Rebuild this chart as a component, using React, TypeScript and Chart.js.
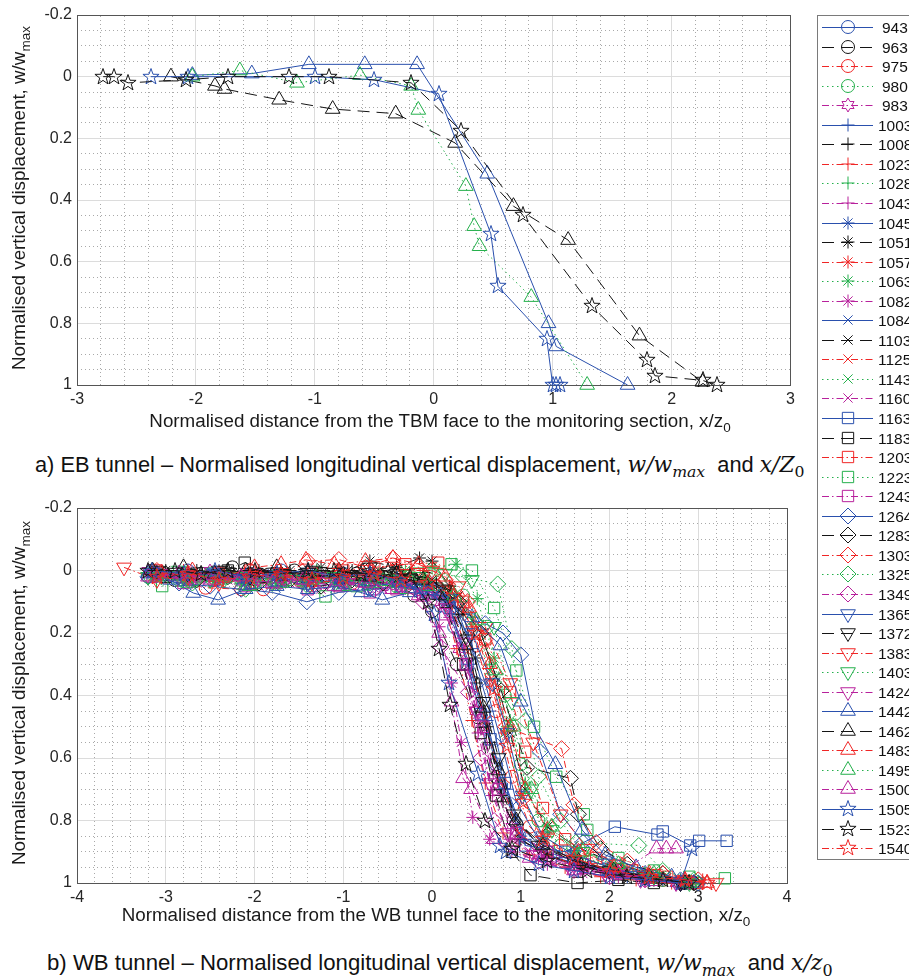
import React, { useEffect, useRef } from 'react';
import { Chart, registerables } from 'chart.js';
import { drawPoint } from 'chart.js/helpers';

Chart.register(...registerables);

const FONT = '"Liberation Sans", Arial, Helvetica, sans-serif';
const MATH = '"DejaVu Serif", "Liberation Serif", serif';

// ---------- monitoring sections (legend order) ----------
const sectionIds = [
  943, 963, 975, 980, 983, 1003, 1008, 1023, 1028, 1043, 1045, 1051, 1057, 1063, 1082,
  1084, 1103, 1125, 1143, 1160, 1163, 1183, 1203, 1223, 1243, 1264, 1283, 1303, 1325, 1349,
  1365, 1372, 1383, 1403, 1424, 1442, 1462, 1483, 1495, 1500, 1505, 1523, 1540,
];

// ---------- tick labels ----------
const ebXTicks = [-3, -2, -1, 0, 1, 2, 3];
const wbXTicks = [-4, -3, -2, -1, 0, 1, 2, 3, 4];
const yTicks = [-0.2, 0, 0.2, 0.4, 0.6, 0.8, 1];

// ---------- (a) EB tunnel: [x/z0, w/wmax] ----------
const eb1442 = [[-2.03, -0.005], [-1.53, -0.01], [-1.05, -0.04], [-0.58, -0.04], [-0.14, -0.04], [0.45, 0.315], [0.965, 0.8], [1.03, 0.875], [1.63, 1.0]];
const eb1462 = [[-2.21, 0.0], [-1.84, 0.03], [-1.76, 0.04], [-1.3, 0.075], [-0.85, 0.105], [-0.32, 0.12], [0.18, 0.215], [0.67, 0.42], [1.13, 0.53], [1.73, 0.84], [2.26, 0.99]];
const eb1495 = [[-2.03, 0.0], [-1.63, -0.02], [-1.15, 0.02], [-0.62, -0.005], [-0.19, 0.03], [-0.13, 0.108], [0.27, 0.355], [0.34, 0.485], [0.385, 0.55], [0.82, 0.715], [1.29, 1.0]];
const eb1505 = [[-2.38, 0.0], [-2.07, 0.0], [-1.0, 0.0], [-0.5, 0.01], [0.04, 0.055], [0.48, 0.51], [0.54, 0.68], [0.95, 0.85], [1.0, 1.0], [1.03, 1.0], [1.06, 1.0]];
const eb1523 = [[-2.78, 0.0], [-2.69, 0.0], [-2.57, 0.02], [-2.08, 0.01], [-1.73, 0.0], [-1.22, 0.0], [-0.88, 0.0], [-0.19, 0.02], [0.23, 0.175], [0.75, 0.45], [1.33, 0.745], [1.79, 0.92], [1.86, 0.97], [2.26, 0.985], [2.38, 1.0]];

// ---------- (b) WB tunnel: [x/z0, w/wmax] ----------
const wb943 = [[-3.1, 0.01], [-2.75, 0.0], [-2.4, 0.02], [-2.05, 0.01], [-1.7, 0.0], [-1.35, 0.03], [-1.0, 0.01], [-0.65, 0.02], [-0.3, 0.03], [0.0, 0.06], [0.25, 0.18], [0.48, 0.36], [0.72, 0.62], [0.95, 0.81], [1.3, 0.9], [1.7, 0.94], [2.1, 0.96], [2.5, 0.98], [2.85, 1.0]];
const wb963 = [[-3.15, 0.0], [-2.9, 0.03], [-2.6, 0.01], [-2.25, -0.01], [-1.9, 0.02], [-1.55, 0.0], [-1.2, 0.02], [-0.85, 0.01], [-0.5, 0.02], [-0.2, 0.08], [0.0, 0.13], [0.28, 0.3], [0.52, 0.47], [0.72, 0.66], [0.92, 0.8], [1.25, 0.88], [1.6, 0.93], [2.0, 0.96], [2.4, 0.98], [2.8, 1.0]];
const wb975 = [[-3.0, 0.02], [-2.55, 0.055], [-2.15, 0.06], [-1.9, 0.06], [-1.5, 0.03], [-1.25, 0.02], [-0.9, 0.04], [-0.55, 0.02], [-0.25, 0.04], [0.05, 0.05], [0.3, 0.12], [0.5, 0.24], [0.72, 0.45], [0.9, 0.66], [1.1, 0.82], [1.4, 0.9], [1.8, 0.95], [2.2, 0.97], [2.6, 0.99], [2.95, 1.0]];
const wb980 = [[-3.2, 0.02], [-2.85, 0.03], [-2.5, 0.01], [-2.15, 0.03], [-1.8, 0.02], [-1.45, 0.04], [-1.1, 0.02], [-0.75, 0.03], [-0.4, 0.05], [-0.1, 0.06], [0.2, 0.07], [0.35, 0.08], [0.62, 0.18], [0.82, 0.4], [1.0, 0.62], [1.2, 0.8], [1.45, 0.88], [1.8, 0.93], [2.2, 0.97], [2.6, 0.99], [2.85, 1.0]];
const wb983 = [[-3.2, 0.0], [-2.85, 0.02], [-2.5, 0.0], [-2.15, 0.02], [-1.8, 0.01], [-1.45, 0.03], [-1.1, 0.02], [-0.75, 0.04], [-0.45, 0.03], [-0.15, 0.05], [0.1, 0.1], [0.3, 0.25], [0.5, 0.45], [0.7, 0.66], [0.9, 0.82], [1.2, 0.91], [1.6, 0.95], [2.0, 0.97], [2.4, 0.99], [2.75, 1.0]];
const wb1003 = [[-3.1, 0.0], [-2.75, 0.01], [-2.4, 0.0], [-2.05, 0.02], [-1.7, 0.01], [-1.35, 0.0], [-1.0, 0.02], [-0.65, 0.01], [-0.3, 0.03], [0.0, 0.04], [0.25, 0.1], [0.45, 0.25], [0.65, 0.45], [0.85, 0.7], [1.05, 0.86], [1.4, 0.92], [1.8, 0.95], [2.2, 0.98], [2.6, 0.99], [2.9, 1.0]];
const wb1008 = [[-3.0, 0.01], [-2.65, 0.0], [-2.3, 0.02], [-1.95, 0.0], [-1.6, 0.01], [-1.25, 0.02], [-0.9, 0.0], [-0.55, 0.02], [-0.25, 0.01], [0.05, 0.04], [0.3, 0.14], [0.5, 0.36], [0.65, 0.55], [0.8, 0.74], [1.0, 0.86], [1.35, 0.92], [1.75, 0.95], [2.15, 0.98], [2.55, 0.99], [2.9, 1.0]];
const wb1023 = [[-3.15, 0.02], [-2.8, 0.01], [-2.45, 0.03], [-2.1, 0.02], [-1.75, 0.01], [-1.4, 0.03], [-1.05, 0.02], [-0.7, 0.0], [-0.4, -0.02], [-0.1, 0.0], [0.1, 0.08], [0.28, 0.25], [0.45, 0.48], [0.6, 0.68], [0.8, 0.84], [1.1, 0.91], [1.5, 0.95], [1.9, 0.98], [2.3, 0.99], [2.7, 1.0]];
const wb1028 = [[-3.2, 0.01], [-2.85, 0.03], [-2.5, 0.02], [-2.15, 0.04], [-1.8, 0.02], [-1.45, 0.03], [-1.1, 0.05], [-0.75, 0.03], [-0.4, 0.04], [-0.1, 0.02], [0.2, 0.05], [0.45, 0.15], [0.65, 0.3], [0.85, 0.5], [1.05, 0.7], [1.3, 0.84], [1.6, 0.91], [2.0, 0.95], [2.4, 0.98], [2.85, 1.0]];
const wb1043 = [[-3.05, 0.0], [-2.7, 0.02], [-2.35, 0.01], [-2.0, 0.03], [-1.65, 0.02], [-1.3, 0.01], [-0.95, 0.03], [-0.6, 0.04], [-0.3, 0.05], [0.0, 0.07], [0.2, 0.15], [0.38, 0.32], [0.52, 0.52], [0.68, 0.72], [0.88, 0.86], [1.2, 0.92], [1.6, 0.96], [2.0, 0.98], [2.45, 0.99], [2.8, 1.0]];
const wb1045 = [[-3.1, 0.01], [-2.75, 0.02], [-2.4, 0.01], [-2.05, 0.03], [-1.7, 0.02], [-1.35, 0.01], [-1.0, 0.03], [-0.65, 0.02], [-0.35, 0.04], [-0.05, 0.05], [0.2, 0.12], [0.42, 0.3], [0.62, 0.48], [0.8, 0.7], [1.0, 0.85], [1.3, 0.91], [1.7, 0.95], [2.1, 0.97], [2.5, 0.99], [2.85, 1.0]];
const wb1051 = [[-3.0, 0.0], [-2.65, 0.01], [-2.3, 0.0], [-1.95, 0.01], [-1.6, 0.0], [-1.25, -0.01], [-0.95, 0.0], [-0.7, -0.03], [-0.4, -0.01], [-0.14, -0.04], [0.0, -0.03], [0.2, 0.05], [0.35, 0.14], [0.49, 0.28], [0.62, 0.5], [0.78, 0.72], [0.98, 0.86], [1.3, 0.91], [1.7, 0.95], [2.1, 0.97], [2.5, 0.99], [2.85, 1.0]];
const wb1057 = [[-3.15, 0.02], [-2.8, 0.0], [-2.45, 0.02], [-2.1, 0.01], [-1.75, 0.03], [-1.4, 0.02], [-1.05, 0.0], [-0.7, 0.02], [-0.4, 0.01], [-0.1, 0.03], [0.2, 0.06], [0.45, 0.18], [0.65, 0.35], [0.82, 0.52], [1.0, 0.72], [1.25, 0.85], [1.6, 0.92], [2.0, 0.96], [2.45, 0.98], [2.9, 1.0], [3.05, 0.99]];
const wb1063 = [[-3.05, 0.01], [-2.7, 0.02], [-2.35, 0.01], [-2.0, 0.03], [-1.65, 0.02], [-1.3, 0.0], [-0.95, 0.02], [-0.6, 0.01], [-0.3, 0.0], [0.0, -0.01], [0.27, -0.02], [0.51, 0.09], [0.7, 0.28], [0.88, 0.48], [1.05, 0.68], [1.3, 0.82], [1.6, 0.9], [2.0, 0.95], [2.4, 0.97], [2.8, 0.99], [3.0, 1.0]];
const wb1082 = [[-3.1, 0.01], [-2.75, 0.0], [-2.4, 0.02], [-2.05, 0.01], [-1.7, 0.03], [-1.35, 0.02], [-1.0, 0.04], [-0.65, 0.03], [-0.35, 0.05], [-0.1, 0.08], [0.08, 0.18], [0.22, 0.36], [0.33, 0.55], [0.46, 0.79], [0.65, 0.86], [0.9, 0.9], [1.3, 0.94], [1.7, 0.97], [2.1, 0.98], [2.5, 0.99], [2.8, 1.0]];
const wb1084 = [[-3.2, 0.01], [-2.85, 0.0], [-2.5, 0.02], [-2.15, 0.03], [-1.8, 0.01], [-1.45, 0.02], [-1.1, 0.04], [-0.75, 0.03], [-0.45, 0.05], [-0.15, 0.06], [0.15, 0.1], [0.4, 0.2], [0.6, 0.36], [0.78, 0.55], [0.95, 0.74], [1.2, 0.86], [1.55, 0.92], [1.95, 0.96], [2.35, 0.98], [2.75, 1.0]];
const wb1103 = [[-3.05, 0.0], [-2.7, 0.02], [-2.35, 0.0], [-2.0, 0.01], [-1.65, 0.0], [-1.3, 0.02], [-0.95, 0.01], [-0.6, 0.0], [-0.3, 0.02], [0.0, 0.03], [0.3, 0.08], [0.55, 0.2], [0.72, 0.34], [0.88, 0.52], [1.05, 0.7], [1.3, 0.82], [1.6, 0.88], [2.0, 0.93], [2.45, 0.97], [2.85, 1.0]];
const wb1125 = [[-3.1, 0.02], [-2.75, 0.03], [-2.4, 0.02], [-2.05, 0.04], [-1.7, 0.02], [-1.35, 0.03], [-1.0, 0.01], [-0.65, 0.03], [-0.35, 0.02], [-0.05, 0.04], [0.2, 0.1], [0.4, 0.26], [0.6, 0.48], [0.78, 0.68], [0.98, 0.84], [1.3, 0.91], [1.7, 0.95], [2.1, 0.97], [2.5, 0.99], [2.9, 1.0]];
const wb1143 = [[-3.15, 0.03], [-2.8, 0.02], [-2.45, 0.04], [-2.1, 0.03], [-1.75, 0.05], [-1.4, 0.03], [-1.05, 0.04], [-0.7, 0.02], [-0.4, 0.03], [-0.1, 0.04], [0.2, 0.07], [0.45, 0.16], [0.65, 0.32], [0.82, 0.52], [1.0, 0.72], [1.25, 0.85], [1.6, 0.91], [2.0, 0.95], [2.4, 0.98], [2.8, 1.0]];
const wb1160 = [[-3.0, 0.02], [-2.65, 0.04], [-2.3, 0.03], [-1.95, 0.05], [-1.6, 0.04], [-1.25, 0.06], [-0.9, 0.04], [-0.55, 0.06], [-0.25, 0.05], [0.05, 0.08], [0.25, 0.16], [0.42, 0.32], [0.56, 0.5], [0.72, 0.7], [0.92, 0.85], [1.25, 0.91], [1.65, 0.95], [2.05, 0.97], [2.45, 0.99], [2.8, 1.0]];
const wb1163 = [[-3.1, 0.01], [-2.75, 0.03], [-2.4, 0.02], [-2.05, 0.04], [-1.7, 0.03], [-1.35, 0.05], [-1.0, 0.04], [-0.65, 0.06], [-0.35, 0.05], [-0.05, 0.07], [0.2, 0.12], [0.4, 0.3], [0.55, 0.46], [0.66, 0.54], [0.82, 0.68], [1.05, 0.88], [1.5, 0.9], [2.06, 0.82], [2.54, 0.845], [2.6, 0.835], [2.91, 0.88], [3.01, 0.865], [3.32, 0.865]];
const wb1183 = [[-3.0, 0.02], [-2.65, 0.01], [-2.3, 0.0], [-2.11, -0.025], [-1.75, 0.01], [-1.4, 0.02], [-1.05, 0.01], [-0.7, 0.03], [-0.4, 0.02], [-0.1, 0.04], [0.15, 0.1], [0.35, 0.3], [0.55, 0.52], [0.72, 0.72], [0.9, 0.9], [1.11, 0.975], [1.64, 1.0], [2.1, 0.99], [2.5, 1.0], [2.85, 1.0]];
const wb1203 = [[-3.1, 0.0], [-2.75, 0.02], [-2.4, 0.01], [-2.05, 0.0], [-1.7, 0.02], [-1.35, 0.01], [-1.0, 0.0], [-0.65, -0.01], [-0.3, -0.02], [0.07, -0.025], [0.35, 0.1], [0.6, 0.22], [0.88, 0.39], [1.05, 0.58], [1.25, 0.76], [1.5, 0.86], [1.85, 0.92], [2.25, 0.96], [2.65, 0.98], [3.0, 1.0]];
const wb1223 = [[-3.04, 0.05], [-2.7, 0.03], [-2.35, 0.02], [-2.0, 0.04], [-1.65, 0.03], [-1.2, 0.083], [-0.85, 0.05], [-0.5, 0.03], [-0.15, 0.01], [0.22, -0.02], [0.45, 0.0], [0.7, 0.12], [0.95, 0.32], [1.15, 0.5], [1.4, 0.66], [1.71, 0.78], [1.75, 0.83], [2.1, 0.92], [2.5, 0.96], [2.9, 0.98], [3.3, 0.985]];
const wb1243 = [[-3.15, 0.02], [-2.8, 0.04], [-2.45, 0.03], [-2.1, 0.05], [-1.75, 0.04], [-1.4, 0.06], [-1.05, 0.05], [-0.7, 0.07], [-0.4, 0.06], [-0.1, 0.08], [0.15, 0.14], [0.38, 0.3], [0.58, 0.5], [0.75, 0.7], [0.95, 0.84], [1.3, 0.9], [1.7, 0.94], [2.1, 0.97], [2.5, 0.99], [2.9, 1.0]];
const wb1264 = [[-3.2, 0.02], [-2.85, 0.04], [-2.5, 0.05], [-2.15, 0.06], [-1.8, 0.07], [-1.41, 0.1], [-1.05, 0.07], [-0.7, 0.06], [-0.35, 0.05], [0.0, 0.06], [0.3, 0.1], [0.6, 0.17], [0.8, 0.2], [1.0, 0.27], [1.22, 0.58], [1.45, 0.78], [1.7, 0.87], [2.0, 0.93], [2.4, 0.97], [2.8, 0.99], [3.0, 1.0]];
const wb1283 = [[-3.0, 0.01], [-2.65, 0.03], [-2.3, 0.02], [-1.95, 0.04], [-1.6, 0.03], [-1.25, 0.05], [-0.9, 0.03], [-0.55, 0.04], [-0.25, 0.03], [0.05, 0.05], [0.3, 0.1], [0.55, 0.2], [0.78, 0.385], [1.07, 0.63], [1.56, 0.665], [1.65, 0.78], [1.9, 0.89], [2.2, 0.94], [2.6, 0.97], [2.95, 1.0]];
const wb1303 = [[-3.1, 0.0], [-2.75, 0.02], [-2.4, 0.01], [-2.05, 0.0], [-1.7, 0.02], [-1.4, -0.03], [-1.05, -0.035], [-0.75, -0.01], [-0.44, -0.04], [-0.15, -0.01], [0.15, 0.03], [0.4, 0.1], [0.6, 0.22], [0.83, 0.5], [1.46, 0.57], [1.6, 0.75], [1.85, 0.87], [2.2, 0.93], [2.6, 0.97], [3.0, 0.99]];
const wb1325 = [[-3.05, 0.02], [-2.7, 0.04], [-2.35, 0.03], [-2.1, 0.06], [-1.75, 0.04], [-1.4, 0.05], [-1.05, 0.03], [-0.7, 0.04], [-0.35, 0.02], [0.0, 0.01], [0.35, 0.02], [0.74, 0.043], [0.9, 0.25], [1.05, 0.48], [1.2, 0.66], [1.45, 0.8], [1.62, 0.87], [2.33, 0.88], [2.6, 0.96], [2.95, 0.99]];
const wb1349 = [[-3.1, 0.01], [-2.75, 0.03], [-2.4, 0.02], [-2.05, 0.04], [-1.7, 0.03], [-1.35, 0.05], [-1.0, 0.04], [-0.65, 0.06], [-0.35, 0.05], [-0.1, 0.1], [0.1, 0.245], [0.41, 0.39], [0.55, 0.6], [0.7, 0.8], [0.9, 0.88], [1.2, 0.93], [1.6, 0.96], [2.0, 0.98], [2.4, 0.99], [2.8, 1.0]];
const wb1365 = [[-3.15, 0.01], [-2.8, 0.02], [-2.45, 0.01], [-2.1, 0.03], [-1.75, 0.02], [-1.4, 0.04], [-1.05, 0.03], [-0.7, 0.05], [-0.4, 0.04], [-0.1, 0.06], [0.2, 0.09], [0.45, 0.2], [0.68, 0.36], [0.85, 0.52], [1.02, 0.72], [1.25, 0.85], [1.6, 0.91], [2.0, 0.95], [2.4, 0.98], [2.8, 1.0]];
const wb1372 = [[-3.1, 0.0], [-2.75, 0.01], [-2.4, 0.0], [-2.05, 0.02], [-1.7, 0.01], [-1.35, 0.0], [-1.0, 0.02], [-0.7, -0.01], [-0.4, 0.01], [-0.1, 0.02], [0.15, 0.06], [0.4, 0.22], [0.58, 0.42], [0.75, 0.6], [0.92, 0.78], [1.2, 0.88], [1.6, 0.93], [2.0, 0.96], [2.4, 0.98], [2.8, 1.0]];
const wb1383 = [[-3.47, -0.01], [-3.1, 0.03], [-2.75, 0.02], [-2.4, 0.04], [-2.05, 0.03], [-1.7, 0.02], [-1.35, 0.04], [-1.0, 0.03], [-0.65, 0.02], [-0.3, 0.01], [0.0, 0.0], [0.3, 0.05], [0.6, 0.18], [0.88, 0.36], [1.14, 0.55], [1.45, 0.78], [1.75, 0.89], [2.1, 0.94], [2.5, 0.97], [2.85, 0.99], [3.2, 1.0]];
const wb1403 = [[-3.2, 0.02], [-2.85, 0.0], [-2.5, 0.03], [-2.15, 0.02], [-1.8, 0.04], [-1.45, 0.03], [-1.1, 0.02], [-0.75, 0.04], [-0.45, 0.03], [-0.15, 0.02], [0.15, 0.01], [0.45, 0.03], [0.7, 0.18], [0.9, 0.42], [1.12, 0.7], [1.35, 0.83], [1.7, 0.9], [2.1, 0.95], [2.5, 0.98], [2.9, 1.0]];
const wb1424 = [[-3.05, 0.01], [-2.7, 0.03], [-2.35, 0.02], [-2.0, 0.01], [-1.65, 0.03], [-1.3, 0.02], [-0.95, 0.04], [-0.6, 0.03], [-0.3, 0.05], [-0.05, 0.07], [0.15, 0.12], [0.35, 0.23], [0.5, 0.45], [0.65, 0.68], [0.85, 0.84], [1.15, 0.91], [1.55, 0.95], [1.95, 0.97], [2.35, 0.99], [2.75, 1.0]];
const wb1442 = [[-3.2, 0.01], [-2.95, 0.03], [-2.69, 0.072], [-2.41, 0.094], [-2.1, 0.06], [-1.75, 0.05], [-1.4, 0.06], [-1.05, 0.05], [-0.8, 0.07], [-0.56, 0.094], [-0.25, 0.07], [0.1, 0.08], [0.45, 0.15], [0.77, 0.24], [1.0, 0.42], [1.39, 0.62], [1.69, 0.83], [1.95, 0.91], [2.3, 0.95], [2.7, 0.98], [2.95, 1.0]];
const wb1462 = [[-3.15, 0.0], [-2.8, -0.01], [-2.45, 0.01], [-2.1, 0.0], [-1.75, -0.01], [-1.4, 0.01], [-1.05, 0.0], [-0.7, 0.02], [-0.4, 0.01], [-0.1, 0.03], [0.15, 0.08], [0.38, 0.24], [0.58, 0.44], [0.75, 0.64], [0.95, 0.8], [1.25, 0.88], [1.65, 0.93], [2.05, 0.96], [2.45, 0.98], [2.85, 1.0]];
const wb1483 = [[-3.05, 0.01], [-2.7, 0.0], [-2.35, 0.02], [-2.0, -0.01], [-1.7, -0.02], [-1.42, -0.034], [-1.1, -0.02], [-0.75, -0.03], [-0.44, -0.04], [-0.15, -0.02], [0.15, 0.02], [0.42, 0.12], [0.65, 0.3], [0.88, 0.5], [1.05, 0.7], [1.3, 0.83], [1.65, 0.9], [2.05, 0.95], [2.45, 0.97], [2.85, 0.99], [3.1, 1.0]];
const wb1495 = [[-3.1, 0.02], [-2.75, 0.04], [-2.4, 0.03], [-2.05, 0.05], [-1.7, 0.04], [-1.35, 0.03], [-1.0, 0.05], [-0.65, 0.04], [-0.35, 0.06], [-0.05, 0.05], [0.25, 0.08], [0.5, 0.16], [0.72, 0.32], [0.92, 0.5], [1.12, 0.7], [1.35, 0.82], [1.7, 0.9], [2.1, 0.94], [2.5, 0.97], [2.9, 1.0]];
const wb1500 = [[-3.2, 0.02], [-2.85, 0.01], [-2.5, 0.03], [-2.15, 0.02], [-1.8, 0.04], [-1.45, 0.03], [-1.1, 0.05], [-0.75, 0.04], [-0.45, 0.06], [-0.15, 0.08], [0.08, 0.2], [0.22, 0.42], [0.35, 0.665], [0.44, 0.7], [0.7, 0.86], [1.1, 0.92], [1.6, 0.96], [2.1, 0.97], [2.53, 0.89], [2.64, 0.89], [2.75, 0.89]];
const wb1505 = [[-3.15, 0.0], [-2.8, 0.01], [-2.45, 0.0], [-2.1, 0.02], [-1.75, 0.01], [-1.4, 0.0], [-1.05, 0.02], [-0.7, 0.01], [-0.4, 0.03], [-0.15, 0.06], [0.02, 0.14], [0.19, 0.36], [0.52, 0.65], [0.77, 0.88], [0.83, 0.9], [1.2, 0.94], [1.6, 0.96], [2.0, 0.98], [2.4, 0.99], [2.8, 1.0], [2.93, 0.89]];
const wb1523 = [[-3.2, 0.0], [-2.9, 0.0], [-2.6, 0.01], [-2.3, 0.0], [-2.0, 0.0], [-1.7, 0.01], [-1.4, 0.0], [-1.1, 0.0], [-0.8, 0.01], [-0.5, 0.0], [-0.25, 0.02], [-0.05, 0.1], [0.08, 0.25], [0.2, 0.43], [0.38, 0.62], [0.6, 0.8], [0.9, 0.89], [1.3, 0.93], [1.75, 0.96], [2.2, 0.98], [2.6, 0.99], [2.9, 1.0]];
const wb1540 = [[-3.1, 0.02], [-2.75, 0.01], [-2.4, 0.03], [-2.05, 0.02], [-1.7, 0.01], [-1.35, 0.03], [-1.0, 0.02], [-0.65, 0.01], [-0.35, 0.03], [-0.05, 0.04], [0.25, 0.08], [0.5, 0.2], [0.7, 0.38], [0.85, 0.56], [1.02, 0.74], [1.25, 0.86], [1.6, 0.92], [2.0, 0.96], [2.45, 0.98], [2.85, 0.99], [3.1, 1.0]];

const ebTable: Record<number, number[][]> = { 1442: eb1442, 1462: eb1462, 1495: eb1495, 1505: eb1505, 1523: eb1523 };
const wbTable: Record<number, number[][]> = {
  943: wb943, 963: wb963, 975: wb975, 980: wb980, 983: wb983, 1003: wb1003, 1008: wb1008, 1023: wb1023,
  1028: wb1028, 1043: wb1043, 1045: wb1045, 1051: wb1051, 1057: wb1057, 1063: wb1063, 1082: wb1082,
  1084: wb1084, 1103: wb1103, 1125: wb1125, 1143: wb1143, 1160: wb1160, 1163: wb1163, 1183: wb1183,
  1203: wb1203, 1223: wb1223, 1243: wb1243, 1264: wb1264, 1283: wb1283, 1303: wb1303, 1325: wb1325,
  1349: wb1349, 1365: wb1365, 1372: wb1372, 1383: wb1383, 1403: wb1403, 1424: wb1424, 1442: wb1442,
  1462: wb1462, 1483: wb1483, 1495: wb1495, 1500: wb1500, 1505: wb1505, 1523: wb1523, 1540: wb1540,
};

// ---------- styles ----------
const COLORS = ['#2a50ad', '#141414', '#f02626', '#25b04c', '#b8219c'];
const DASHES = [[], [12, 7], [7, 3, 1.5, 3], [1.5, 3.5], [7, 3, 1.5, 3]];
const MARKERS = ['circle', 'cross', 'star', 'crossRot', 'rect', 'rectRot', 'triangleDown', 'triangle', 'pentagram'];

function starCanvas(color: string, n: number, R: number, r: number) {
  const size = 2 * Math.ceil(R + 2);
  const c = document.createElement('canvas');
  c.width = size;
  c.height = size;
  const g = c.getContext('2d')!;
  g.strokeStyle = color;
  g.lineWidth = 1;
  g.beginPath();
  for (let k = 0; k < n * 2; k++) {
    const a = -Math.PI / 2 + (k * Math.PI) / n;
    const rr = k % 2 === 0 ? R : r;
    const px = size / 2 + rr * Math.cos(a);
    const py = size / 2 + rr * Math.sin(a);
    if (k === 0) g.moveTo(px, py);
    else g.lineTo(px, py);
  }
  g.closePath();
  g.stroke();
  return c;
}

const styleCache: Record<number, any> = {};
function styleFor(idx: number) {
  if (styleCache[idx]) return styleCache[idx];
  const color = COLORS[idx % 5];
  const dash = DASHES[idx % 5];
  const mk = idx === 4 ? 'hexagram' : MARKERS[Math.floor(idx / 5)];
  let pointStyle: any = mk;
  let rotation = 0;
  let radius = 6.5;
  switch (mk) {
    case 'circle': radius = 6.5; break;
    case 'cross': radius = 6.5; break;
    case 'star': radius = 6.5; break;
    case 'crossRot': radius = 6.5; break;
    case 'rect': radius = 8; break;
    case 'rectRot': radius = 8; break;
    case 'triangleDown': pointStyle = 'triangle'; rotation = 180; radius = 8.5; break;
    case 'triangle': radius = 8.5; break;
    case 'pentagram': pointStyle = starCanvas(color, 5, 8.5, 3.4); break;
    case 'hexagram': pointStyle = starCanvas(color, 6, 7, 4.0); break;
  }
  const s = { color, dash, pointStyle, rotation, radius };
  styleCache[idx] = s;
  return s;
}

function makeDataset(id: number, pts: number[][]) {
  const idx = sectionIds.indexOf(id);
  const s = styleFor(idx);
  return {
    label: String(id),
    data: pts.map(([x, y]) => ({ x, y })),
    showLine: true,
    borderColor: s.color,
    backgroundColor: s.color,
    borderWidth: 1,
    borderDash: s.dash,
    pointStyle: s.pointStyle,
    pointRotation: s.rotation,
    pointRadius: s.radius,
    pointHoverRadius: s.radius,
    pointBorderColor: s.color,
    pointBackgroundColor: 'rgba(0,0,0,0)',
    pointBorderWidth: 1,
    tension: 0,
    fill: false,
    clip: 14,
    order: -idx,
  };
}

const isMult = (v: number, step: number) => Math.abs(v / step - Math.round(v / step)) < 1e-6;
const fmt = (v: number) => String(Math.round(v * 10) / 10);

// crisp (non-smoothed) drawing of image markers
const crispPlugin = {
  id: 'crispMarkers',
  beforeDatasetsDraw(chart: any) {
    chart.ctx.imageSmoothingEnabled = false;
  },
};

function buildOptions(xmin: number, xmax: number, xTicks: number[], pad: { top: number; right: number }) {
  const tickFont = { family: FONT, size: 16 };
  return {
    animation: false as const,
    responsive: false,
    maintainAspectRatio: false,
    events: [] as any[],
    layout: { padding: { top: pad.top, right: pad.right, left: 0, bottom: 0 } },
    plugins: { legend: { display: false }, tooltip: { enabled: false } },
    scales: {
      x: {
        type: 'linear' as const,
        position: 'bottom' as const,
        min: xmin,
        max: xmax,
        afterBuildTicks: (s: any) => { s.ticks = xTicks.map((v) => ({ value: v })); },
        ticks: { color: '#262626', font: tickFont, padding: 5, maxRotation: 0, autoSkip: false, callback: (v: any) => fmt(Number(v)) },
        grid: { color: '#dcdcdc', lineWidth: 1, drawTicks: false },
        border: { display: true, color: '#555', width: 1 },
        afterFit: (s: any) => { s.height = 30; },
      },
      xm: {
        type: 'linear' as const,
        position: 'top' as const,
        min: xmin,
        max: xmax,
        ticks: { display: false, stepSize: 0.2 },
        grid: { color: (c: any) => (isMult(c.tick.value, 1) ? 'rgba(0,0,0,0)' : '#a9a9a9'), lineWidth: 1, drawTicks: false },
        border: { display: true, color: '#555', width: 1, dash: [1, 3] },
        afterFit: (s: any) => { s.height = 0; },
      },
      y: {
        type: 'linear' as const,
        position: 'left' as const,
        min: -0.2,
        max: 1,
        reverse: true,
        afterBuildTicks: (s: any) => { s.ticks = yTicks.map((v) => ({ value: v })); },
        ticks: { color: '#262626', font: tickFont, padding: 5, autoSkip: false, callback: (v: any) => fmt(Number(v)) },
        grid: { color: '#dcdcdc', lineWidth: 1, drawTicks: false },
        border: { display: true, color: '#555', width: 1 },
        afterFit: (s: any) => { s.width = 77; },
      },
      ym: {
        type: 'linear' as const,
        position: 'right' as const,
        min: -0.2,
        max: 1,
        reverse: true,
        ticks: { display: false, stepSize: 0.05 },
        grid: { color: (c: any) => (isMult(c.tick.value, 0.2) ? 'rgba(0,0,0,0)' : '#a9a9a9'), lineWidth: 1, drawTicks: false },
        border: { display: true, color: '#555', width: 1, dash: [1, 3] },
        afterFit: (s: any) => { s.width = 0; },
      },
    },
  };
}

function drawLegend(canvas: HTMLCanvasElement) {
  const ctx = canvas.getContext('2d')!;
  ctx.clearRect(0, 0, canvas.width, canvas.height);
  ctx.imageSmoothingEnabled = false;
  const ox = 810;
  ctx.fillStyle = '#ffffff';
  ctx.fillRect(817 - ox, 15, 200, 844);
  ctx.strokeStyle = '#7a7a7a';
  ctx.lineWidth = 1;
  ctx.strokeRect(817.5 - ox, 15.5, 200, 844);
  ctx.font = `15.5px ${FONT}`;
  ctx.textBaseline = 'middle';
  sectionIds.forEach((id, k) => {
    const s = styleFor(k);
    const y = Math.round(27 + k * 19.55) + 0.5;
    ctx.save();
    ctx.strokeStyle = s.color;
    ctx.lineWidth = 1;
    ctx.setLineDash(s.dash);
    ctx.beginPath();
    ctx.moveTo(822 - ox, y);
    ctx.lineTo(873 - ox, y);
    ctx.stroke();
    ctx.restore();
    ctx.save();
    ctx.strokeStyle = s.color;
    ctx.fillStyle = 'rgba(0,0,0,0)';
    ctx.lineWidth = 1;
    drawPoint(ctx, { pointStyle: s.pointStyle, rotation: s.rotation, radius: s.radius, borderWidth: 1 } as any, 848 - ox, y - 0.5);
    ctx.restore();
    ctx.fillStyle = '#111';
    const label = String(id);
    ctx.fillText(label, (label.length === 3 ? 882 : 878) - ox, y + 1);
  });
}

const sub: React.CSSProperties = { fontSize: '0.72em', verticalAlign: '-0.35em', lineHeight: 0 };
const mathStyle: React.CSSProperties = { fontFamily: MATH, fontStyle: 'italic' };
const mathSub: React.CSSProperties = { ...sub, fontFamily: MATH };

export default function App() {
  const topRef = useRef<HTMLCanvasElement>(null);
  const botRef = useRef<HTMLCanvasElement>(null);
  const legRef = useRef<HTMLCanvasElement>(null);

  useEffect(() => {
    const ebDatasets = Object.keys(ebTable).map((k) => makeDataset(Number(k), ebTable[Number(k)]));
    const wbDatasets = sectionIds.map((id) => makeDataset(id, wbTable[id]));
    const top = new Chart(topRef.current!, {
      type: 'scatter',
      data: { datasets: ebDatasets as any },
      options: buildOptions(-3, 3, ebXTicks, { top: 15, right: 9 }) as any,
      plugins: [crispPlugin],
    });
    const bot = new Chart(botRef.current!, {
      type: 'scatter',
      data: { datasets: wbDatasets as any },
      options: buildOptions(-4, 4, wbXTicks, { top: 18, right: 13 }) as any,
      plugins: [crispPlugin],
    });
    drawLegend(legRef.current!);
    return () => {
      top.destroy();
      bot.destroy();
    };
  }, []);

  const txt: React.CSSProperties = { position: 'absolute', whiteSpace: 'nowrap', fontFamily: FONT, color: '#1a1a1a' };

  return (
    <div style={{ position: 'absolute', left: 0, top: 0, width: 909, height: 979, overflow: 'hidden', background: '#fff' }}>
      <canvas ref={topRef} width={800} height={415} style={{ position: 'absolute', left: 0, top: 0 }} />
      <canvas ref={botRef} width={800} height={423} style={{ position: 'absolute', left: 0, top: 490 }} />
      <canvas ref={legRef} width={99} height={870} style={{ position: 'absolute', left: 810, top: 0 }} />

      <div style={{ ...txt, left: 19, top: 198, fontSize: 18.8, lineHeight: '20px', transform: 'translate(-50%, -50%) rotate(-90deg)' }}>
        Normalised vertical displacement, w/w<span style={sub}>max</span>
      </div>
      <div style={{ ...txt, left: 440, top: 421, fontSize: 18.8, lineHeight: '20px', transform: 'translate(-50%, -50%)' }}>
        Normalised distance from the TBM face to the monitoring section, x/z<span style={sub}>0</span>
      </div>
      <div style={{ ...txt, left: 35, top: 452, fontSize: 21.8, lineHeight: '26px', color: '#111' }}>
        a) EB tunnel – Normalised longitudinal vertical displacement, <span style={mathStyle}>w/w<span style={mathSub}>max</span></span>&nbsp; and <span style={mathStyle}>x/Z</span><span style={mathSub}>0</span>
      </div>

      <div style={{ ...txt, left: 19, top: 693, fontSize: 18.8, lineHeight: '20px', transform: 'translate(-50%, -50%) rotate(-90deg)' }}>
        Normalised vertical displacement, w/w<span style={sub}>max</span>
      </div>
      <div style={{ ...txt, left: 436, top: 915, fontSize: 18.8, lineHeight: '20px', transform: 'translate(-50%, -50%)' }}>
        Normalised distance from the WB tunnel face to the monitoring section, x/z<span style={sub}>0</span>
      </div>
      <div style={{ ...txt, left: 47, top: 949, fontSize: 22.2, lineHeight: '26px', color: '#111' }}>
        b) WB tunnel – Normalised longitudinal vertical displacement, <span style={mathStyle}>w/w<span style={mathSub}>max</span></span>&nbsp; and <span style={mathStyle}>x/z</span><span style={mathSub}>0</span>
      </div>
    </div>
  );
}
